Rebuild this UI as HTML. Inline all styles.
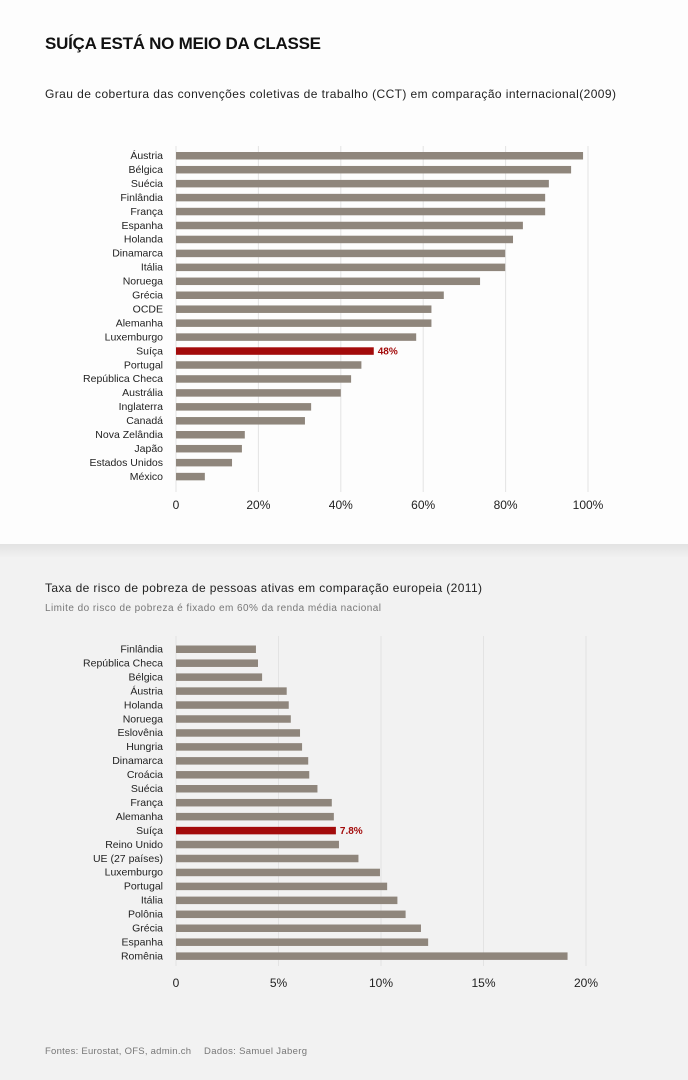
<!DOCTYPE html>
<html><head><meta charset="utf-8"><style>
body{margin:0;width:688px;height:1080px;overflow:hidden;font-family:"Liberation Sans",sans-serif;}
svg{display:block}
</style></head><body>
<svg id="s" width="688" height="1080" xmlns="http://www.w3.org/2000/svg" font-family="Liberation Sans, sans-serif">
<defs><linearGradient id="sh" x1="0" y1="0" x2="0" y2="1"><stop offset="0" stop-color="#e2e2e2"/><stop offset="1" stop-color="#f2f2f2"/></linearGradient></defs>
<rect width="688" height="1080" fill="#f2f2f2"/>
<rect width="688" height="544" fill="#fdfdfd"/>
<rect x="0" y="544" width="688" height="14" fill="url(#sh)"/>
<text x="45" y="49" font-size="17" font-weight="bold" fill="#111" textLength="276">SUÍÇA ESTÁ NO MEIO DA CLASSE</text>
<text x="45" y="98" font-size="12" fill="#222" textLength="571">Grau de cobertura das convenções coletivas de trabalho (CCT) em comparação internacional(2009)</text>
<text x="45" y="592" font-size="12" fill="#222" textLength="437">Taxa de risco de pobreza de pessoas ativas em comparação europeia (2011)</text>
<text x="45" y="611" font-size="10" fill="#777" textLength="336">Limite do risco de pobreza é fixado em 60% da renda média nacional</text>
<text x="45" y="1054" font-size="9.5" fill="#777" textLength="146">Fontes: Eurostat, OFS, admin.ch</text>
<text x="204" y="1054" font-size="9.5" fill="#777" textLength="103">Dados: Samuel Jaberg</text>
<g id="g"></g>
</svg>
<script>
var g=document.getElementById('g'),h='';
function chart(data,y0,step,x0,scale,gridTop,gridBot,ticks,tickY,hi,lab){
 ticks.forEach(function(t){var x=x0+t[0]*scale;
  h+='<line x1="'+x+'" y1="'+gridTop+'" x2="'+x+'" y2="'+gridBot+'" stroke="#e3e3e3" stroke-width="1"/>';
  h+='<text x="'+x+'" y="'+tickY+'" font-size="12" fill="#222" text-anchor="middle">'+t[1]+'</text>';});
 data.forEach(function(d,i){var yc=y0+i*step,red=d[0]==hi;
  h+='<text x="163" y="'+(yc+3.5)+'" font-size="10.5" fill="#222" text-anchor="end">'+d[0]+'</text>';
  h+='<rect x="'+x0+'" y="'+(yc-3.5)+'" width="'+(d[1]*scale)+'" height="7.5" fill="'+(red?'#a30b0b':'#8f867c')+'"/>';
  if(red)h+='<text x="'+(x0+d[1]*scale+4)+'" y="'+(yc+3.5)+'" font-size="10" font-weight="bold" fill="#a30b0b">'+lab+'</text>';});
}
chart([["Áustria",98.8],["Bélgica",95.9],["Suécia",90.5],["Finlândia",89.6],["França",89.6],["Espanha",84.2],["Holanda",81.8],["Dinamarca",79.9],["Itália",79.9],["Noruega",73.8],["Grécia",65],["OCDE",62],["Alemanha",62],["Luxemburgo",58.3],["Suíça",48],["Portugal",45],["República Checa",42.5],["Austrália",40],["Inglaterra",32.8],["Canadá",31.3],["Nova Zelândia",16.7],["Japão",16],["Estados Unidos",13.6],["México",7]],
 155.5,13.95,176,4.12,146,492,[[0,"0"],[20,"20%"],[40,"40%"],[60,"60%"],[80,"80%"],[100,"100%"]],509,"Suíça","48%");
chart([["Finlândia",3.9],["República Checa",4],["Bélgica",4.2],["Áustria",5.4],["Holanda",5.5],["Noruega",5.6],["Eslovênia",6.05],["Hungria",6.15],["Dinamarca",6.45],["Croácia",6.5],["Suécia",6.9],["França",7.6],["Alemanha",7.7],["Suíça",7.8],["Reino Unido",7.95],["UE (27 países)",8.9],["Luxemburgo",9.95],["Portugal",10.3],["Itália",10.8],["Polônia",11.2],["Grécia",11.95],["Espanha",12.3],["Romênia",19.1]],
 649,13.95,176,20.5,636,966,[[0,"0"],[5,"5%"],[10,"10%"],[15,"15%"],[20,"20%"]],987,"Suíça","7.8%");
g.innerHTML=h;
</script>
</body></html>
